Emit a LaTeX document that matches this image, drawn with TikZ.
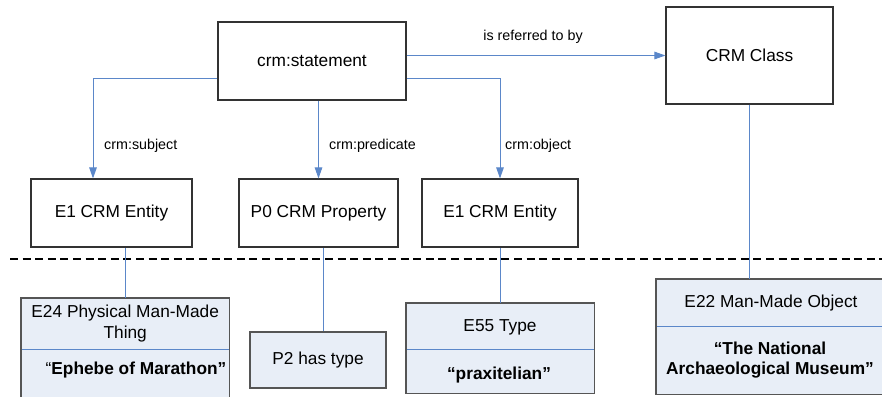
\documentclass[tikz,border=0pt]{standalone}
\usepackage{fontspec}
\setmainfont{Liberation Sans}
\usetikzlibrary{arrows.meta,calc}
\definecolor{lnk}{HTML}{5B87C9}
\definecolor{boxfill}{HTML}{E8EEF7}
\definecolor{bord}{HTML}{333333}
\definecolor{lbord}{HTML}{555555}
\tikzset{
  topbox/.style={draw=bord, line width=1.1pt, fill=white, inner sep=0pt},
  arr/.style={draw=lnk, line width=1pt, -{Triangle[length=11pt,width=7.5pt]}},
  lnkline/.style={draw=lnk, line width=0.9pt},
  lbl/.style={inner sep=0pt, font=\fontsize{14.3}{17}\selectfont},
  hdr/.style={fill=boxfill, inner sep=0pt, anchor=north west},
  bodypart/.style={fill=boxfill, inner sep=0pt, anchor=north west},
  lowborder/.style={draw=lbord, line width=1.3pt},
  divline/.style={draw=black, line width=1.1pt, dash pattern=on 8pt off 4.6pt},
  txt/.style={inner sep=0pt, align=center}
}
\begin{document}
\begin{tikzpicture}[x=1pt,y=-1pt, font=\fontsize{17.3}{21}\selectfont]
\useasboundingbox (0,0) rectangle (882,396);

% upper nodes
\node[topbox, minimum width=188pt, minimum height=78pt] (stmt) at (312,61) {crm:statement};
\node[topbox, minimum width=167pt, minimum height=97pt] (crm) at (749.5,55.5) {CRM Class};
\node[topbox, minimum width=161pt, minimum height=68pt] (e1a) at (111.5,213) {E1 CRM Entity};
\node[topbox, minimum width=159pt, minimum height=68pt] (p0) at (318.5,213) {P0 CRM Property};
\node[topbox, minimum width=156pt, minimum height=68pt] (e1b) at (500,213) {E1 CRM Entity};

% connectors
\coordinate (sL) at ($(stmt.west)+(0,17)$);
\coordinate (sR) at ($(stmt.east)+(0,17)$);
\coordinate (e1aIn) at ($(e1a.north)+(-18.5,0)$);
\draw[arr] (sL) -| (e1aIn);
\draw[arr] (stmt.south -| p0.north) -- (p0.north);
\draw[arr] (sR) -| (e1b.north);
\draw[arr] (stmt.east |- crm.west) -- (crm.west);

% labels
\node[lbl, anchor=west] (lsub) at (104,146) {crm:subject};
\node[lbl, anchor=west] (lpred) at (329,146) {crm:predicate};
\node[lbl, anchor=west] (lobj) at (505,146) {crm:object};
\node[lbl] (lref) at (533,37) {is referred to by};

% dashed separator
\coordinate (dl) at (10,259);
\coordinate (dr) at (884,259);
\draw[divline] (dl) -- (dr);

% lower boxes
\node[hdr, minimum width=208pt, minimum height=51pt] (e24h) at (21,298) {};
\node[bodypart, minimum width=208pt, minimum height=56pt] (e24b) at (e24h.south west) {};
\draw[lnkline] (e24h.south west) -- (e24h.south east);
\draw[lowborder] (e24h.north west) rectangle (e24b.south east);
\node[txt] (e24t) at (e24h.center) {E24 Physical Man-Made\\Thing};
\node[txt] (e24v) at (136,370) {“\textbf{Ephebe of Marathon”}};

\node[fill=boxfill, draw=lbord, line width=1.3pt, minimum width=136pt, minimum height=56pt, inner sep=0pt] (p2) at (318,360) {P2 has type};

\node[hdr, minimum width=188pt, minimum height=46pt] (e55h) at (406,303) {};
\node[bodypart, minimum width=188pt, minimum height=44pt] (e55b) at (e55h.south west) {};
\draw[lnkline] (e55h.south west) -- (e55h.south east);
\draw[lowborder] (e55h.north west) rectangle (e55b.south east);
\node[txt] (e55t) at (500,327) {E55 Type};
\node[txt] (e55v) at (499,375) {\textbf{“praxitelian”}};

\node[hdr, minimum width=230pt, minimum height=47pt] (e22h) at (656,279) {};
\node[bodypart, minimum width=230pt, minimum height=68pt] (e22b) at (e22h.south west) {};
\draw[lnkline] (e22h.south west) -- (e22h.south east);
\draw[lowborder] (e22h.north west) rectangle (e22b.south east);
\node[txt] (e22t) at (771,303) {E22 Man-Made Object};
\node[txt, font=\fontsize{17.3}{20}\selectfont\bfseries] (e22v) at (770,360) {“The National\\Archaeological Museum”};

% lower connectors
\coordinate (p2top) at ($(p2.north)+(5,0)$);
\draw[lnkline] (e24h.north) -- (e24h.north |- e1a.south);
\draw[lnkline] (p2top) -- (p2top |- p0.south);
\draw[lnkline] (e55h.north) -- (e55h.north |- e1b.south);
\draw[lnkline] (crm.south) -- (crm.south |- e22h.north);
\end{tikzpicture}
\end{document}
